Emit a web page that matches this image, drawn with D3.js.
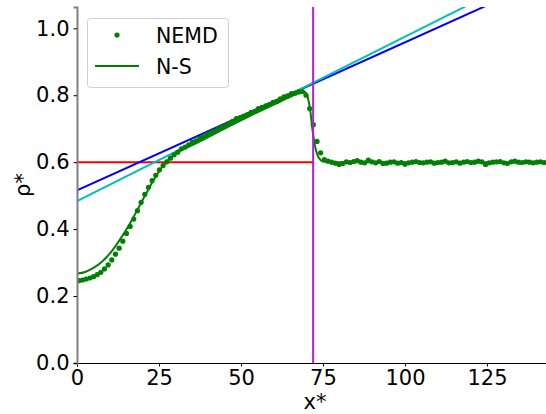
<!DOCTYPE html>
<html>
<head>
<meta charset="utf-8">
<script src="https://cdn.jsdelivr.net/npm/d3@7"></script>
<style>
  body { margin: 0; background: #fff; }
  svg { display: block; font-family: "DejaVu Sans", sans-serif; }
</style>
</head>
<body>
<div id="chart"></div>
<script>
// NEMD density profile (x*, rho*)
const nemdX = [0.56, 1.68, 2.79, 3.91, 5.03, 6.15, 7.26, 8.38, 9.50, 10.61, 11.73, 12.85, 13.97, 15.08, 16.20, 17.32,
  18.43, 19.55, 20.67, 21.79, 22.90, 24.02, 25.14, 26.25, 27.37, 28.49, 29.61, 30.72, 31.84, 32.96, 34.07, 35.19,
  36.31, 37.43, 38.54, 39.66, 40.78, 41.89, 43.01, 44.13, 45.25, 46.36, 47.48, 48.60, 49.71, 50.83, 51.95, 53.07,
  54.18, 55.30, 56.42, 57.54, 58.65, 59.77, 60.89, 62.00, 63.12, 64.24, 65.36, 66.47, 67.59, 68.71, 69.82, 70.94,
  72.06, 73.18, 74.29, 75.41, 76.53, 77.64, 78.76, 79.88, 81.00, 82.11, 83.23, 84.35, 85.46, 86.58, 87.70, 88.82,
  89.93, 91.05, 92.17, 93.29, 94.40, 95.52, 96.64, 97.75, 98.87, 99.99, 101.11, 102.22, 103.34, 104.46, 105.57, 106.69,
  107.81, 108.93, 110.04, 111.16, 112.28, 113.39, 114.51, 115.63, 116.75, 117.86, 118.98, 120.10, 121.21, 122.33, 123.45, 124.57,
  125.68, 126.80, 127.92, 129.04, 130.15, 131.27, 132.39, 133.50, 134.62, 135.74, 136.86, 137.97, 139.09, 140.21, 141.32, 142.44];
const nemdRho = [0.246, 0.248, 0.251, 0.254, 0.258, 0.264, 0.271, 0.281, 0.293, 0.308, 0.325, 0.343, 0.364, 0.387, 0.408, 0.430,
  0.455, 0.480, 0.504, 0.525, 0.545, 0.561, 0.577, 0.590, 0.601, 0.612, 0.622, 0.630, 0.640, 0.645, 0.652, 0.660,
  0.664, 0.671, 0.676, 0.683, 0.688, 0.692, 0.699, 0.705, 0.709, 0.716, 0.722, 0.730, 0.733, 0.738, 0.742, 0.749,
  0.752, 0.760, 0.764, 0.768, 0.772, 0.779, 0.782, 0.789, 0.795, 0.798, 0.805, 0.806, 0.810, 0.811, 0.800, 0.760,
  0.712, 0.662, 0.628, 0.608, 0.603, 0.600, 0.597, 0.593, 0.596, 0.601, 0.599, 0.602, 0.605, 0.600, 0.598, 0.606,
  0.601, 0.598, 0.602, 0.596, 0.597, 0.600, 0.601, 0.597, 0.599, 0.594, 0.598, 0.600, 0.602, 0.599, 0.598, 0.600,
  0.601, 0.597, 0.599, 0.600, 0.603, 0.598, 0.599, 0.601, 0.597, 0.600, 0.602, 0.599, 0.600, 0.603, 0.601, 0.593,
  0.598, 0.600, 0.601, 0.602, 0.598, 0.596, 0.601, 0.603, 0.600, 0.599, 0.601, 0.600, 0.598, 0.600, 0.601, 0.599];

// Navier-Stokes solution
const nsX = [0, 2.5, 5, 7.5, 9, 10.5, 12, 13.5, 15, 16.5, 18, 19.5, 21, 22.5, 24, 25.5, 27, 28.5, 30, 35, 40, 45, 50, 55, 60, 65,
  68, 69.5, 70.5, 71.2, 71.8, 72.6, 73.3, 74.3, 75.2, 80, 100, 120, 143];
const nsRho = [0.267, 0.272, 0.284, 0.302, 0.316, 0.333, 0.353, 0.375, 0.398, 0.423, 0.450, 0.478, 0.505, 0.532, 0.557, 0.579, 0.598, 0.613, 0.625, 0.650, 0.675, 0.700, 0.725, 0.749, 0.772, 0.795,
  0.808, 0.810, 0.788, 0.748, 0.697, 0.647, 0.622, 0.606, 0.601, 0.600, 0.600, 0.600, 0.600];

// reference lines
const blueLine = [[0, 0.516], [143, 1.148]];
const cyanLine = [[0, 0.484], [143, 1.186]];
const redLine = [[0, 0.6], [72, 0.6]];
const shockX = 72;

const xTicks = [0, 25, 50, 75, 100, 125];
const yTicks = [0.0, 0.2, 0.4, 0.6, 0.8, 1.0];
const legendItems = ["NEMD", "N-S"];

const width = 546, height = 414;
const margin = {left: 77, right: 0, top: 7, bottom: 51};

const x = d3.scaleLinear().domain([0, 143]).range([margin.left, width - margin.right]);
const y = d3.scaleLinear().domain([0, 1.0636]).range([height - margin.bottom, margin.top]);

const svg = d3.select("#chart").append("svg")
  .attr("width", width)
  .attr("height", height);

svg.append("clipPath").attr("id", "clip")
  .append("rect")
  .attr("x", margin.left).attr("y", margin.top)
  .attr("width", width - margin.left - margin.right)
  .attr("height", height - margin.top - margin.bottom);

const plot = svg.append("g").attr("clip-path", "url(#clip)");
const line = d3.line().x(d => x(d[0])).y(d => y(d[1]));

plot.append("path").attr("d", line(redLine))
  .attr("fill", "none").attr("stroke", "#ff0000").attr("stroke-width", 2);
plot.append("path").attr("d", line(blueLine))
  .attr("fill", "none").attr("stroke", "#0000ff").attr("stroke-width", 2);
plot.append("path").attr("d", line(cyanLine))
  .attr("fill", "none").attr("stroke", "#00bfbf").attr("stroke-width", 2);

plot.selectAll("circle.nemd")
  .data(d3.zip(nemdX, nemdRho))
  .join("circle")
  .attr("class", "nemd")
  .attr("cx", d => x(d[0]))
  .attr("cy", d => y(d[1]))
  .attr("r", 2.6)
  .attr("fill", "#008000");

plot.append("path")
  .attr("d", d3.line().curve(d3.curveMonotoneX).x(d => x(d[0])).y(d => y(d[1]))(d3.zip(nsX, nsRho)))
  .attr("fill", "none").attr("stroke", "#008000").attr("stroke-width", 2);

plot.append("line")
  .attr("x1", x(shockX)).attr("x2", x(shockX))
  .attr("y1", y.range()[1]).attr("y2", y.range()[0])
  .attr("stroke", "#b01fd0").attr("stroke-width", 2);

// axes
const xAxis = svg.append("g")
  .attr("transform", `translate(0,${y(0)})`)
  .call(d3.axisBottom(x).tickValues(xTicks).tickSize(3.5).tickPadding(4));
const yAxis = svg.append("g")
  .attr("transform", `translate(${x(0)},0)`)
  .call(d3.axisLeft(y).tickValues(yTicks).tickFormat(d3.format(".1f")).tickSize(3.5).tickPadding(4));

[xAxis, yAxis].forEach(a => {
  a.selectAll("text").attr("font-size", 21).attr("font-family", "DejaVu Sans").attr("fill", "#000");
  a.selectAll(".tick line").attr("stroke", "#000").attr("stroke-width", 1);
});
xAxis.select(".domain").attr("stroke", "#000").attr("stroke-width", 1);
yAxis.select(".domain").attr("stroke", "#808080").attr("stroke-width", 2);

svg.append("text")
  .attr("x", 315).attr("y", 409)
  .attr("text-anchor", "middle")
  .attr("font-size", 21)
  .text("x*");
svg.append("text")
  .attr("transform", "translate(30,185) rotate(-90)")
  .attr("text-anchor", "middle")
  .attr("font-size", 21)
  .text("ρ*");

// legend
const legend = svg.append("g");
legend.append("rect")
  .attr("x", 87.5).attr("y", 18.5).attr("width", 141).attr("height", 69)
  .attr("rx", 3)
  .attr("fill", "#fff").attr("fill-opacity", 0.8)
  .attr("stroke", "#d0d0d0");
legend.append("circle").attr("cx", 117).attr("cy", 35).attr("r", 2.6).attr("fill", "#008000");
legend.append("line").attr("x1", 95).attr("x2", 139).attr("y1", 66).attr("y2", 66)
  .attr("stroke", "#008000").attr("stroke-width", 2);
legend.selectAll("text.lab")
  .data(legendItems)
  .join("text")
  .attr("class", "lab")
  .attr("x", 156)
  .attr("y", (d, i) => 43 + i * 31)
  .attr("font-size", 20.5)
  .text(d => d);
</script>
</body>
</html>
